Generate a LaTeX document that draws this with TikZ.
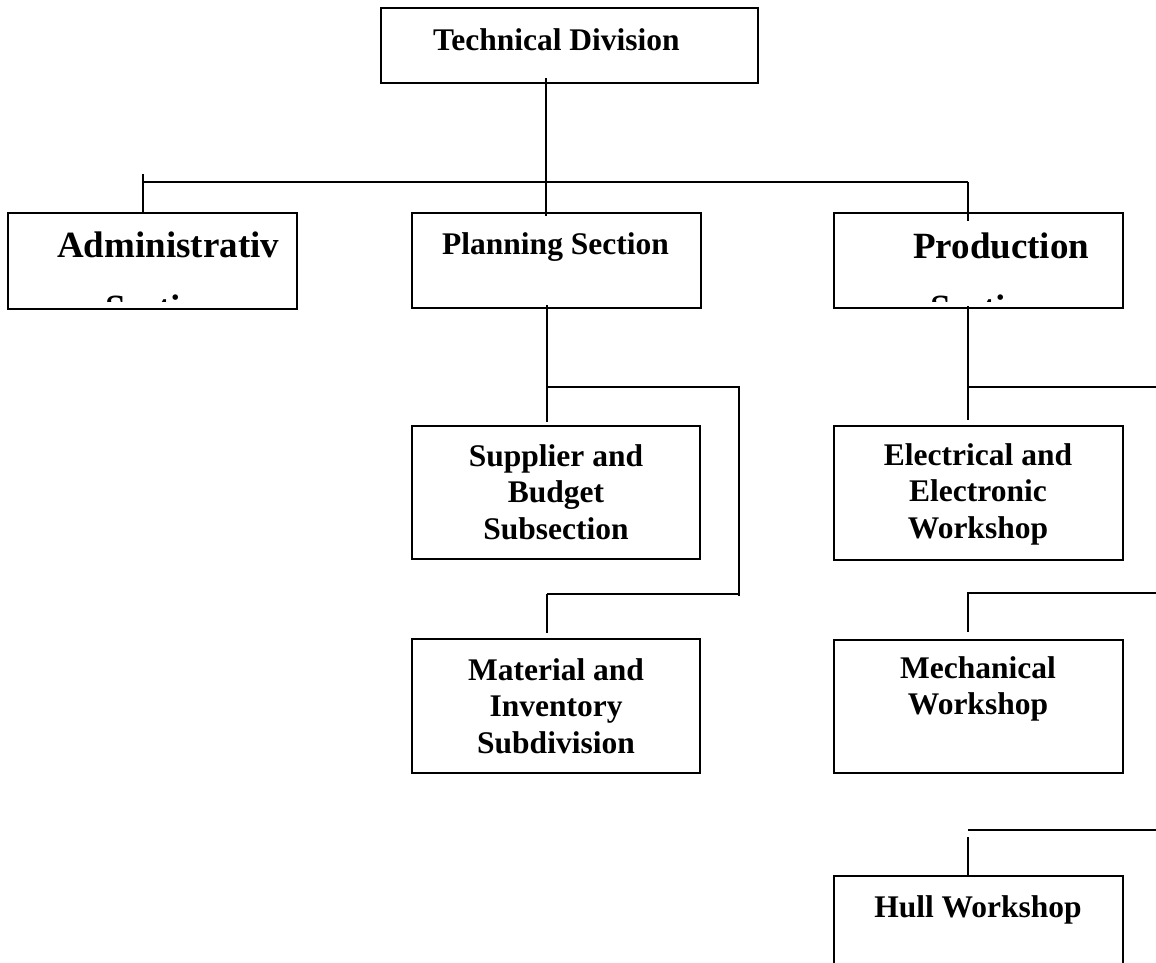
\documentclass[tikz,border=0pt]{standalone}
\usepackage{fontspec}
\setmainfont{Liberation Serif}
\newcommand\mkbox[5]{\node[box, minimum width={#4-#2}, minimum height={#5-#3}] (#1) at ({(#2+#4)/2},{(#3+#5)/2}) {};}
\newcommand\stack[1]{\vtop{\halign{\hfil##\hfil\cr#1\crcr}}}
\begin{document}
\begin{tikzpicture}[x=1pt,y=-1pt,
  box/.style={draw, line width=2pt, inner sep=0pt, rectangle},
  conn/.style={line width=1.8pt},
  txt/.style={inner sep=0pt, font=\fontsize{31.5}{36.8}\selectfont\bfseries},
  bigtxt/.style={inner sep=0pt, font=\fontsize{37}{42}\selectfont\bfseries}]
\useasboundingbox (0,0) rectangle (1156,962);
\clip (0,0) rectangle (1156,962);
% boxes
\mkbox{tech}{381}{8}{758}{83}
\mkbox{admin}{8}{213}{297}{309}
\mkbox{plan}{412}{213}{701}{308}
\mkbox{prod}{834}{213}{1123}{308}
\mkbox{supp}{412}{426}{700}{559}
\mkbox{mat}{412}{639}{700}{773}
\mkbox{elec}{834}{426}{1123}{560}
\mkbox{mech}{834}{640}{1123}{773}
\mkbox{hull}{834}{876}{1123}{1000}
% texts
\node[txt, anchor=base west] (ttech) at (433,50) {Technical Division};
\node[txt, anchor=base west] (tplan) at (442,254) {Planning Section};
\node[bigtxt, anchor=base west] (tadmin) at (57,257) {Administrativ};
\node[bigtxt, anchor=base west] (tprod) at (913,258) {Production};
\begin{scope}
  \clip (admin.north west) rectangle (297,301);
  \node[bigtxt, anchor=base west] (sadmin) at (105,320) {Section};
\end{scope}
\begin{scope}
  \clip (prod.north west) rectangle (1123,301);
  \node[bigtxt, anchor=base west] (sprod) at (930,320) {Section};
\end{scope}
\node[txt, anchor=base] (tsupp) at (556,466) {\stack{Supplier and\cr Budget\cr Subsection}};
\node[txt, anchor=base] (tmat) at (556,680) {\stack{Material and\cr Inventory\cr Subdivision}};
\node[txt, anchor=base] (telec) at (978,465) {\stack{Electrical and\cr Electronic\cr Workshop}};
\node[txt, anchor=base] (tmech) at (978,678) {\stack{Mechanical\cr Workshop}};
\node[txt, anchor=base] (thull) at (978,917) {Hull Workshop};
% connector coordinates
\coordinate (a1) at (546,78);
\coordinate (a2) at (546,216);
\coordinate (h1) at (143,182);
\coordinate (h2) at (968,182);
\coordinate (l1) at (143,174);
\coordinate (l2) at (143,213);
\coordinate (r2) at (968,221);
\coordinate (p1) at (547,305);
\coordinate (p2) at (547,387);
\coordinate (p3) at (547,422);
\coordinate (p4) at (739,387);
\coordinate (p5) at (739,596);
\coordinate (p6) at (547,594);
\coordinate (p7) at (739,594);
\coordinate (p8) at (547,633);
\coordinate (q1) at (968,306);
\coordinate (q2) at (968,387);
\coordinate (q3) at (968,420);
\coordinate (q4) at (1156,387);
\coordinate (m1) at (968,593);
\coordinate (m2) at (1156,593);
\coordinate (m3) at (968,632);
\coordinate (u1) at (968,830);
\coordinate (u2) at (1156,830);
\coordinate (u3) at (968,837);
\coordinate (u4) at (968,875);
% connectors
\draw[conn] (a1) -- (a2);
\draw[conn] (h1) -- (h2);
\draw[conn] (l1) -- (l2);
\draw[conn] (h2) -- (r2);
\draw[conn] (p1) -- (p3);
\draw[conn] (p2) -- (p4) -- (p5);
\draw[conn] (p6) -- (p7);
\draw[conn] (p6) -- (p8);
\draw[conn] (q1) -- (q3);
\draw[conn] (q2) -- (q4);
\draw[conn] (m2) -- (m1) -- (m3);
\draw[conn] (u1) -- (u2);
\draw[conn] (u3) -- (u4);
\end{tikzpicture}
\end{document}
